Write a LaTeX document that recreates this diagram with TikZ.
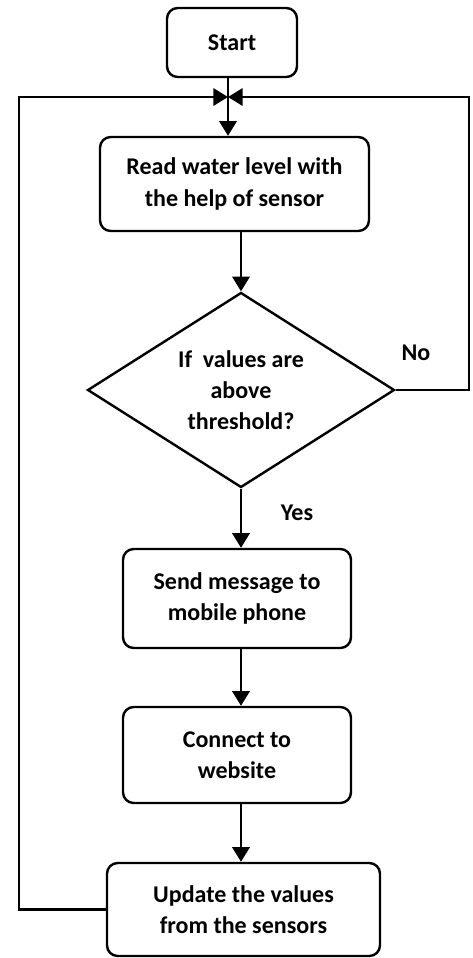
\documentclass[tikz,border=0pt]{standalone}
\usepackage{fontspec}
\setmainfont{Carlito}
\usetikzlibrary{shapes.geometric,arrows.meta}

\begin{document}
\begin{tikzpicture}[x=0.75pt,y=-0.75pt,
    line width=1.8pt,
    >={Triangle[length=11pt,width=13pt]},
    every node/.style={font=\bfseries\fontsize{18}{23.5}\selectfont, align=center},
    process/.style={draw, rounded corners=8pt, inner sep=0pt},
    decision/.style={draw, diamond, aspect=1.6, inner sep=0pt}]
    \useasboundingbox (0,0) rectangle (472,958);
    \node[process, minimum width=97.5pt, minimum height=51.75pt] (start) at (232,42.5) {Start};
    \coordinate (merge) at (228,97);
    \node[process, minimum width=201.75pt, minimum height=70.5pt] (read) at (234.5,184)
        {Read water level with\\the help of sensor};
    \node[decision, minimum width=230.25pt, minimum height=146.25pt] (cond) at (241,390)
        {If~~values are\\above\\threshold?};
    \node[process, minimum width=171pt, minimum height=74.25pt] (send) at (237,598.5)
        {Send message to\\mobile phone};
    \node[process, minimum width=171pt, minimum height=72pt] (connect) at (237,755)
        {Connect to\\website};
    \node[process, minimum width=204.75pt, minimum height=69.75pt] (update) at (243.5,909.5)
        {Update the values\\from the sensors};
    \node (no) at (416,353) {No};
    \node (yes) at (297,513) {Yes};
    \coordinate (rightcorner) at (469,97);
    \coordinate (leftcorner) at (19,97);
    % main flow
    \draw (start.south -| merge) -- (merge);
    \draw[->] (merge) -- (read.north -| merge);
    \draw[->] (read.south -| cond) -- (cond.north);
    \draw[->] (cond.south) -- (send.north -| cond);
    \draw[->] (send.south -| cond) -- (connect.north -| cond);
    \draw[->] (connect.south -| cond) -- (update.north -| cond);
    % loops back
    \draw[->] (cond.east) -| (rightcorner) -- (merge);
    \draw[->] (update.west) -| (leftcorner) -- (merge);
\end{tikzpicture}
\end{document}
